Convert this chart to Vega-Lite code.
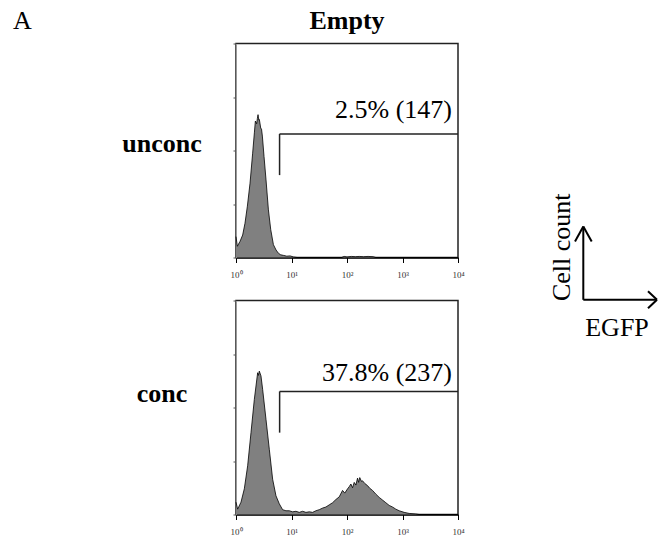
{
  "$schema": "https://vega.github.io/schema/vega-lite/v6.json",
  "padding": {"left": 13, "top": 6.5, "right": 0, "bottom": 0},
  "autosize": {"type": "pad"},
  "background": "white",
  "config": {
    "font": "Liberation Serif",
    "view": {"stroke": "#222", "strokeWidth": 1.5},
    "axis": {"grid": false}
  },
  "title": {"text": "A", "anchor": "start", "frame": "group", "fontSize": 26, "fontWeight": "normal", "color": "#000", "dx": -223, "dy": 48, "offset": 0, "baseline": "alphabetic"},
  "datasets": {
    "top": [
      {"log": 0, "count": 0.39}, {"log": 0.024, "count": 0.21}, {"log": 0.072, "count": 0.30}, {"log": 0.12, "count": 0.42},
      {"log": 0.162, "count": 0.64}, {"log": 0.205, "count": 0.96}, {"log": 0.253, "count": 1.39}, {"log": 0.30, "count": 1.95},
      {"log": 0.331, "count": 2.33}, {"log": 0.349, "count": 2.55}, {"log": 0.373, "count": 2.50}, {"log": 0.385, "count": 2.60},
      {"log": 0.397, "count": 2.67}, {"log": 0.41, "count": 2.57}, {"log": 0.421, "count": 2.58}, {"log": 0.445, "count": 2.42},
      {"log": 0.46, "count": 2.40}, {"log": 0.475, "count": 2.27}, {"log": 0.505, "count": 1.89}, {"log": 0.541, "count": 1.45},
      {"log": 0.584, "count": 0.89}, {"log": 0.626, "count": 0.52}, {"log": 0.674, "count": 0.24}, {"log": 0.722, "count": 0.14},
      {"log": 0.764, "count": 0.08}, {"log": 0.806, "count": 0.05}, {"log": 0.854, "count": 0.04}, {"log": 0.915, "count": 0.025},
      {"log": 0.975, "count": 0.03}, {"log": 1.035, "count": 0.01}, {"log": 1.1, "count": 0}, {"log": 1.9, "count": 0},
      {"log": 1.95, "count": 0.02}, {"log": 2.0, "count": 0.01}, {"log": 2.08, "count": 0.02}, {"log": 2.15, "count": 0.015},
      {"log": 2.22, "count": 0.02}, {"log": 2.3, "count": 0.015}, {"log": 2.38, "count": 0.02}, {"log": 2.47, "count": 0.015},
      {"log": 2.52, "count": 0}, {"log": 4, "count": 0}
    ],
    "bottom": [
      {"log": 0, "count": 0.23}, {"log": 0.03, "count": 0.10}, {"log": 0.09, "count": 0.23}, {"log": 0.15, "count": 0.48},
      {"log": 0.21, "count": 0.91}, {"log": 0.27, "count": 1.53}, {"log": 0.33, "count": 2.15}, {"log": 0.39, "count": 2.65},
      {"log": 0.405, "count": 2.60}, {"log": 0.42, "count": 2.68}, {"log": 0.45, "count": 2.59}, {"log": 0.48, "count": 2.34},
      {"log": 0.54, "count": 1.78}, {"log": 0.60, "count": 1.22}, {"log": 0.66, "count": 0.66}, {"log": 0.72, "count": 0.35},
      {"log": 0.78, "count": 0.20}, {"log": 0.84, "count": 0.09}, {"log": 0.9, "count": 0.07}, {"log": 0.96, "count": 0.07},
      {"log": 1.02, "count": 0.05}, {"log": 1.08, "count": 0.06}, {"log": 1.14, "count": 0.04}, {"log": 1.2, "count": 0.06},
      {"log": 1.26, "count": 0.04}, {"log": 1.32, "count": 0.05}, {"log": 1.38, "count": 0.04}, {"log": 1.44, "count": 0.07},
      {"log": 1.50, "count": 0.09}, {"log": 1.56, "count": 0.12}, {"log": 1.62, "count": 0.14}, {"log": 1.68, "count": 0.18},
      {"log": 1.74, "count": 0.22}, {"log": 1.80, "count": 0.28}, {"log": 1.86, "count": 0.33}, {"log": 1.92, "count": 0.45},
      {"log": 1.96, "count": 0.40}, {"log": 2.01, "count": 0.48}, {"log": 2.04, "count": 0.52}, {"log": 2.07, "count": 0.57},
      {"log": 2.10, "count": 0.50}, {"log": 2.13, "count": 0.60}, {"log": 2.16, "count": 0.55}, {"log": 2.19, "count": 0.68},
      {"log": 2.21, "count": 0.60}, {"log": 2.23, "count": 0.69}, {"log": 2.26, "count": 0.62}, {"log": 2.28, "count": 0.63},
      {"log": 2.32, "count": 0.58}, {"log": 2.37, "count": 0.54}, {"log": 2.41, "count": 0.49}, {"log": 2.46, "count": 0.45},
      {"log": 2.52, "count": 0.38}, {"log": 2.58, "count": 0.32}, {"log": 2.64, "count": 0.27}, {"log": 2.70, "count": 0.22},
      {"log": 2.76, "count": 0.17}, {"log": 2.82, "count": 0.14}, {"log": 2.88, "count": 0.10}, {"log": 2.94, "count": 0.07},
      {"log": 3.03, "count": 0.04}, {"log": 3.12, "count": 0.02}, {"log": 3.24, "count": 0.01}, {"log": 3.3, "count": 0}, {"log": 4, "count": 0}
    ],
    "topgate": [{"gx": 0.785, "gx2": 4, "gy": 2.31, "gyb": 1.54, "ly": 2.61, "label": "2.5% (147)"}],
    "bottomgate": [{"gx": 0.786, "gx2": 4, "gy": 2.30, "gyb": 1.53, "ly": 2.49, "label": "37.8% (237)"}],
    "arrows": [
      {"x": 4.33, "y": -4.23, "x2": 4.33, "y2": 3.10},
      {"x": 4.33, "y": -4.23, "x2": 11.7, "y2": -4.23},
      {"x": 3.5, "y": 1.6, "x2": 4.33, "y2": 3.10},
      {"x": 5.17, "y": 1.6, "x2": 4.33, "y2": 3.10},
      {"x": 10.8, "y": -3.38, "x2": 11.7, "y2": -4.23},
      {"x": 10.8, "y": -5.08, "x2": 11.7, "y2": -4.23}
    ],
    "ylabel": [{"x": 3.0, "y": 1.02, "t": "Cell count"}],
    "xlabel": [{"x": 7.7, "y": -7.83, "t": "EGFP"}]
  },
  "columns": 2,
  "spacing": {"row": 43, "column": 82},
  "bounds": "flush",
  "concat": [
    {
      "width": 222,
      "height": 214,
      "title": {"text": "Empty", "fontSize": 26, "fontWeight": "bold", "color": "#000", "baseline": "alphabetic", "offset": -12, "anchor": "middle"},
      "layer": [
        {
          "data": {"name": "top"},
          "mark": {"type": "area", "color": "#808080", "opacity": 1, "line": {"color": "#000", "strokeWidth": 0.8}},
          "encoding": {
            "x": {"field": "log", "type": "quantitative", "scale": {"domain": [0, 4], "nice": false},
              "axis": {"title": null, "values": [0, 1, 2, 3, 4], "tickSize": 5, "tickColor": "#000", "domainColor": "#000", "domainWidth": 1.5,
                "labelExpr": "'10' + ['⁰','¹','²','³','⁴'][datum.value]", "labelFontSize": 9, "labelColor": "#333", "labelPadding": 8, "labelBaseline": "top", "labelFlush": false, "labelBound": false, "labelOverlap": false}},
            "y": {"field": "count", "type": "quantitative", "scale": {"domain": [0, 4], "nice": false},
              "axis": {"title": "unconc", "values": [0, 1, 2, 3, 4], "labels": false, "tickSize": 3, "tickColor": "#555", "domainColor": "#999",
                "titleAngle": 0, "titleAlign": "center", "titleBaseline": "alphabetic", "titleX": -74.5, "titleY": 108.3, "titleFontSize": 26, "titleFontWeight": "bold", "titleColor": "#000"}}
          }
        },
        {
          "data": {"name": "topgate"},
          "mark": {"type": "rule", "color": "#222", "strokeWidth": 1.5},
          "encoding": {"x": {"field": "gx", "type": "quantitative"}, "x2": {"field": "gx2"}, "y": {"field": "gy", "type": "quantitative"}}
        },
        {
          "data": {"name": "topgate"},
          "mark": {"type": "rule", "color": "#222", "strokeWidth": 1.5},
          "encoding": {"x": {"field": "gx", "type": "quantitative"}, "y": {"field": "gy", "type": "quantitative"}, "y2": {"field": "gyb"}}
        },
        {
          "data": {"name": "topgate"},
          "mark": {"type": "text", "fontSize": 26, "align": "right", "baseline": "alphabetic", "dx": -6, "color": "#000"},
          "encoding": {"x": {"field": "gx2", "type": "quantitative"}, "y": {"field": "ly", "type": "quantitative"}, "text": {"field": "label"}}
        }
      ]
    },
    {
      "width": 120,
      "height": 214,
      "view": {"stroke": null},
      "layer": [
        {
          "data": {"name": "arrows"},
          "mark": {"type": "rule", "color": "#000", "strokeWidth": 2},
          "encoding": {
            "x": {"field": "x", "type": "quantitative", "scale": {"domain": [0, 12], "nice": false}, "axis": null},
            "y": {"field": "y", "type": "quantitative", "scale": {"domain": [0, 21.4], "nice": false, "zero": false}, "axis": null},
            "x2": {"field": "x2"},
            "y2": {"field": "y2"}
          }
        },
        {
          "data": {"name": "ylabel"},
          "mark": {"type": "text", "fontSize": 26, "angle": 270, "align": "center", "baseline": "alphabetic", "color": "#000"},
          "encoding": {
            "x": {"field": "x", "type": "quantitative"},
            "y": {"field": "y", "type": "quantitative"},
            "text": {"field": "t"}
          }
        },
        {
          "data": {"name": "xlabel"},
          "mark": {"type": "text", "fontSize": 26, "align": "center", "baseline": "alphabetic", "color": "#000"},
          "encoding": {
            "x": {"field": "x", "type": "quantitative"},
            "y": {"field": "y", "type": "quantitative"},
            "text": {"field": "t"}
          }
        }
      ]
    },
    {
      "width": 222,
      "height": 214,
      "layer": [
        {
          "data": {"name": "bottom"},
          "mark": {"type": "area", "color": "#808080", "opacity": 1, "line": {"color": "#000", "strokeWidth": 0.8}},
          "encoding": {
            "x": {"field": "log", "type": "quantitative", "scale": {"domain": [0, 4], "nice": false},
              "axis": {"title": null, "values": [0, 1, 2, 3, 4], "tickSize": 5, "tickColor": "#000", "domainColor": "#000", "domainWidth": 1.5,
                "labelExpr": "'10' + ['⁰','¹','²','³','⁴'][datum.value]", "labelFontSize": 9, "labelColor": "#333", "labelPadding": 8, "labelBaseline": "top", "labelFlush": false, "labelBound": false, "labelOverlap": false}},
            "y": {"field": "count", "type": "quantitative", "scale": {"domain": [0, 4], "nice": false},
              "axis": {"title": "conc", "values": [0, 1, 2, 3, 4], "labels": false, "tickSize": 3, "tickColor": "#555", "domainColor": "#999",
                "titleAngle": 0, "titleAlign": "center", "titleBaseline": "alphabetic", "titleX": -74.5, "titleY": 101.3, "titleFontSize": 26, "titleFontWeight": "bold", "titleColor": "#000"}}
          }
        },
        {
          "data": {"name": "bottomgate"},
          "mark": {"type": "rule", "color": "#222", "strokeWidth": 1.5},
          "encoding": {"x": {"field": "gx", "type": "quantitative"}, "x2": {"field": "gx2"}, "y": {"field": "gy", "type": "quantitative"}}
        },
        {
          "data": {"name": "bottomgate"},
          "mark": {"type": "rule", "color": "#222", "strokeWidth": 1.5},
          "encoding": {"x": {"field": "gx", "type": "quantitative"}, "y": {"field": "gy", "type": "quantitative"}, "y2": {"field": "gyb"}}
        },
        {
          "data": {"name": "bottomgate"},
          "mark": {"type": "text", "fontSize": 26, "align": "right", "baseline": "alphabetic", "dx": -6, "color": "#000"},
          "encoding": {"x": {"field": "gx2", "type": "quantitative"}, "y": {"field": "ly", "type": "quantitative"}, "text": {"field": "label"}}
        }
      ]
    }
  ]
}
